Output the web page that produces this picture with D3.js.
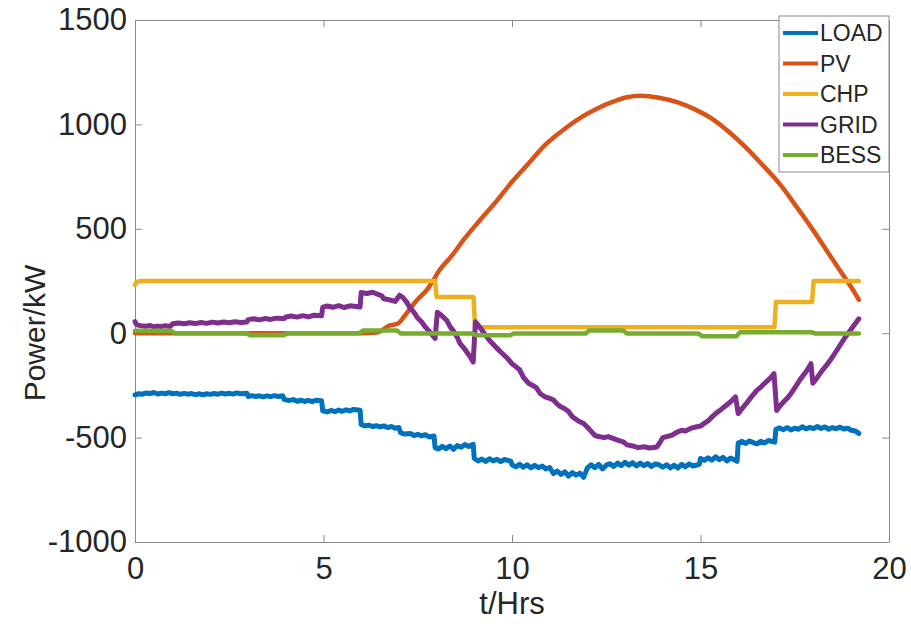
<!DOCTYPE html>
<html>
<head>
<meta charset="UTF-8">
<style>
    body { margin: 0; background: #fff; }
    text { font-family: "Liberation Sans", Arial, sans-serif; fill: #262626; }
</style>
</head>
<body>
<svg width="911" height="627"></svg>
<script src="https://d3js.org/d3.v7.min.js"></script>
<script>

// series as [t (hrs), power (kW)]
let loadPts = [[0,-295],[0.1,-290],[0.2,-292],[0.3,-286],[0.4,-289],[0.5,-284],[0.6,-291],[0.7,-287],[0.8,-290],[0.9,-285],[1.0,-290],[1.1,-287],[1.2,-293],[1.3,-288],[1.4,-292],[1.5,-289],[1.6,-294],[1.7,-290],[1.8,-295],[1.9,-290],[2.0,-293],[2.1,-289],[2.2,-292],[2.3,-287],[2.4,-291],[2.5,-288],[2.6,-292],[2.7,-286],[2.8,-290],[2.97,-288],[3.0,-303],[3.1,-299],[3.2,-303],[3.3,-300],[3.4,-305],[3.5,-300],[3.6,-304],[3.7,-299],[3.8,-303],[3.92,-300],[3.96,-318],[4.1,-322],[4.2,-318],[4.3,-326],[4.4,-321],[4.5,-327],[4.6,-322],[4.7,-328],[4.8,-321],[4.95,-324],[4.98,-372],[5.1,-377],[5.2,-370],[5.3,-376],[5.4,-368],[5.5,-374],[5.6,-367],[5.7,-372],[5.8,-365],[5.97,-369],[6.0,-438],[6.1,-444],[6.2,-440],[6.3,-447],[6.4,-443],[6.5,-449],[6.6,-444],[6.7,-452],[6.8,-447],[6.9,-455],[7.0,-452],[7.04,-476],[7.15,-483],[7.3,-480],[7.4,-490],[7.5,-484],[7.6,-492],[7.7,-486],[7.8,-497],[7.93,-492],[7.96,-548],[8.05,-555],[8.15,-542],[8.25,-553],[8.35,-540],[8.45,-556],[8.55,-538],[8.65,-546],[8.75,-533],[8.85,-543],[8.97,-532],[9.0,-600],[9.1,-612],[9.2,-603],[9.3,-614],[9.4,-601],[9.5,-612],[9.6,-604],[9.7,-615],[9.8,-605],[9.97,-613],[10.0,-630],[10.1,-640],[10.2,-628],[10.3,-642],[10.4,-630],[10.5,-645],[10.6,-633],[10.7,-644],[10.8,-636],[10.9,-650],[11.0,-643],[11.1,-672],[11.2,-660],[11.3,-676],[11.4,-664],[11.5,-684],[11.6,-668],[11.7,-680],[11.8,-670],[11.9,-690],[12.0,-645],[12.1,-630],[12.2,-644],[12.3,-628],[12.4,-650],[12.5,-632],[12.6,-625],[12.7,-638],[12.8,-622],[12.9,-634],[13.0,-618],[13.1,-632],[13.2,-620],[13.3,-636],[13.4,-622],[13.5,-634],[13.6,-624],[13.7,-638],[13.8,-626],[13.9,-630],[14.0,-642],[14.1,-630],[14.2,-645],[14.3,-632],[14.4,-646],[14.5,-628],[14.6,-640],[14.7,-626],[14.8,-636],[14.97,-628],[15.0,-600],[15.1,-609],[15.2,-597],[15.3,-608],[15.4,-592],[15.5,-606],[15.6,-595],[15.7,-612],[15.8,-598],[15.97,-614],[16.0,-526],[16.1,-518],[16.2,-528],[16.3,-516],[16.4,-524],[16.5,-530],[16.6,-518],[16.7,-526],[16.8,-514],[16.97,-522],[17.0,-460],[17.1,-454],[17.2,-462],[17.3,-452],[17.4,-463],[17.5,-455],[17.6,-460],[17.7,-448],[17.8,-458],[17.9,-451],[18.0,-457],[18.1,-447],[18.2,-456],[18.3,-449],[18.4,-460],[18.5,-452],[18.6,-458],[18.7,-450],[18.8,-459],[18.9,-455],[19.0,-465],[19.1,-468],[19.2,-480]]

let pvPts = [[0,0],[6.0,0],[6.4,3],[6.76,37],[6.98,47],[7.16,85],[7.47,157],[7.73,205],[7.9,250],[8.07,300],[8.4,370],[8.75,455],[9.12,535],[9.6,635],[10.0,725],[10.45,815],[10.9,905],[11.35,972],[11.8,1030],[12.25,1075],[12.7,1110],[13.05,1130],[13.4,1137],[13.9,1128],[14.4,1105],[14.85,1072],[15.3,1028],[15.75,965],[16.2,890],[16.65,805],[17.1,715],[17.55,605],[18.0,490],[18.35,395],[18.7,300],[19.0,220],[19.2,160]]

let chpPts = [[0,232],[0.05,246],[0.15,250],[7.96,250],[8.0,173],[8.98,173],[9.02,28],[16.96,28],[17.0,150],[17.96,150],[18.0,250],[19.2,250]]

let gridPts = [[0,55],[0.05,40],[0.15,36],[0.3,33],[0.4,37],[0.5,30],[0.6,34],[0.7,31],[0.8,36],[0.93,32],[1.0,45],[1.15,49],[1.3,45],[1.45,50],[1.6,46],[1.75,51],[1.9,47],[2.05,53],[2.2,49],[2.35,54],[2.5,50],[2.65,55],[2.8,51],[2.97,54],[3.0,65],[3.15,69],[3.3,64],[3.45,70],[3.6,66],[3.75,72],[3.96,70],[4.0,78],[4.15,82],[4.3,77],[4.45,84],[4.6,78],[4.75,86],[4.95,84],[4.98,125],[5.1,130],[5.25,124],[5.4,132],[5.55,123],[5.7,131],[5.97,126],[6.0,195],[6.15,190],[6.3,196],[6.45,186],[6.55,178],[6.6,165],[6.75,160],[6.9,152],[7.02,182],[7.1,172],[7.2,150],[7.3,120],[7.4,100],[7.5,72],[7.6,55],[7.7,30],[7.8,10],[7.96,-25],[8.02,100],[8.15,82],[8.27,61],[8.36,30],[8.45,10],[8.55,-20],[8.62,-49],[8.72,-70],[8.8,-90],[8.9,-115],[8.97,-138],[9.03,55],[9.12,35],[9.2,15],[9.3,-10],[9.4,-34],[9.55,-62],[9.7,-90],[9.85,-115],[10.0,-146],[10.1,-160],[10.2,-175],[10.3,-210],[10.44,-240],[10.55,-250],[10.65,-262],[10.75,-290],[10.88,-305],[11.0,-312],[11.1,-320],[11.2,-340],[11.32,-355],[11.4,-362],[11.5,-375],[11.6,-400],[11.76,-420],[11.9,-432],[12.0,-450],[12.1,-470],[12.2,-490],[12.3,-495],[12.45,-500],[12.55,-495],[12.7,-505],[12.8,-512],[12.95,-520],[13.05,-535],[13.2,-540],[13.35,-548],[13.5,-544],[13.65,-550],[13.84,-545],[13.92,-525],[14.0,-500],[14.1,-495],[14.25,-488],[14.35,-476],[14.5,-465],[14.6,-468],[14.75,-455],[14.9,-448],[15.0,-445],[15.1,-432],[15.2,-420],[15.3,-402],[15.4,-385],[15.5,-372],[15.65,-350],[15.8,-328],[15.93,-305],[16.0,-385],[16.1,-362],[16.2,-340],[16.35,-305],[16.5,-273],[16.6,-258],[16.7,-240],[16.85,-215],[16.95,-194],[17.02,-370],[17.1,-350],[17.2,-330],[17.3,-312],[17.4,-289],[17.5,-262],[17.65,-220],[17.8,-185],[17.93,-146],[17.98,-240],[18.1,-212],[18.2,-185],[18.35,-152],[18.5,-114],[18.65,-72],[18.84,-19],[19.0,20],[19.1,45],[19.2,69]]

let bessPts = [[0,12],[0.95,12],[1.05,0],[2.95,0],[3.05,-10],[3.95,-10],[4.05,0],[5.95,0],[6.05,13],[6.95,13],[7.05,-2],[8.95,-2],[9.05,-10],[9.95,-10],[10.05,-2],[11.95,-2],[12.05,13],[12.95,13],[13.05,-2],[14.95,-2],[15.05,-15],[15.95,-15],[16.05,5],[17.95,5],[18.05,-2],[19.2,-2]]

let seriesNames = ["LOAD", "PV", "CHP", "GRID", "BESS"]
let seriesColors = ["#0072BD", "#D95319", "#EDB120", "#7E2F8E", "#77AC30"]
let xTicks = [0, 5, 10, 15, 20]
let yTicks = [-1000, -500, 0, 500, 1000, 1500]

let svg = d3.select("svg")
let mLeft = 135, mRight = 889, mTop = 20, mBottom = 542

let x = d3.scaleLinear().domain([0, 20]).range([mLeft, mRight])
let y = d3.scaleLinear().domain([-1000, 1500]).range([mBottom, mTop])

// axes (box with mirrored inward ticks, like matlab)
let tickLen = 7
let axisColor = "#8a8a8a"
let plain = function(d) { return String(d) }

svg.append("g").attr("transform", "translate(0," + mBottom + ")")
    .call(d3.axisBottom(x).tickValues(xTicks).tickSizeInner(-tickLen).tickSizeOuter(0).tickPadding(15).tickFormat(plain))
svg.append("g").attr("transform", "translate(0," + mTop + ")")
    .call(d3.axisTop(x).tickValues(xTicks).tickSizeInner(-tickLen).tickSizeOuter(0).tickFormat(""))
svg.append("g").attr("transform", "translate(" + mLeft + ",0)")
    .call(d3.axisLeft(y).tickValues(yTicks).tickSizeInner(-tickLen).tickSizeOuter(0).tickPadding(8).tickFormat(plain))
svg.append("g").attr("transform", "translate(" + mRight + ",0)")
    .call(d3.axisRight(y).tickValues(yTicks).tickSizeInner(-tickLen).tickSizeOuter(0).tickFormat(""))

svg.selectAll(".domain").attr("stroke", axisColor)
svg.selectAll(".tick line").attr("stroke", axisColor)
svg.selectAll(".tick text")
    .style("font-family", "'Liberation Sans', Arial, sans-serif")
    .style("font-size", "31px")
    .attr("fill", "#262626")

// axis titles
svg.append("text")
    .attr("x", (mLeft + mRight) / 2)
    .attr("y", 614)
    .attr("text-anchor", "middle")
    .style("font-size", "31px")
    .text("t/Hrs")

svg.append("text")
    .attr("transform", "translate(45," + ((mTop + mBottom) / 2 + 52) + ") rotate(-90)")
    .attr("text-anchor", "middle")
    .style("font-size", "30px")
    .text("Power/kW")

// lines
let line = d3.line().x(d => x(d[0])).y(d => y(d[1]))
let pvLine = d3.line().x(d => x(d[0])).y(d => y(d[1])).curve(d3.curveMonotoneX)

let allSeries = [loadPts, pvPts, chpPts, gridPts, bessPts]
let widths = [5, 4.5, 4.5, 5, 4.5]

svg.append("g")
    .selectAll("path")
    .data(allSeries)
    .enter()
    .append("path")
    .attr("d", function(d, i) { return i === 1 ? pvLine(d) : line(d) })
    .attr("fill", "none")
    .attr("stroke", function(d, i) { return seriesColors[i] })
    .attr("stroke-width", function(d, i) { return widths[i] })
    .attr("stroke-linejoin", "round")
    .attr("stroke-linecap", "round")

// legend
let legend = svg.append("g").attr("transform", "translate(779,16)")
legend.append("rect")
    .attr("width", 110)
    .attr("height", 156)
    .attr("fill", "#fff")
    .attr("stroke", axisColor)

let item = legend.selectAll("g.item")
    .data(seriesNames)
    .enter()
    .append("g")
    .attr("class", "item")
    .attr("transform", function(d, i) { return "translate(0," + (17 + i * 30.5) + ")" })

item.append("line")
    .attr("x1", 4).attr("x2", 39)
    .attr("stroke", function(d, i) { return seriesColors[i] })
    .attr("stroke-width", 4)

item.append("text")
    .attr("x", 41)
    .attr("dy", "0.36em")
    .style("font-size", "23px")
    .text(function(d) { return d })

</script>
</body>
</html>
